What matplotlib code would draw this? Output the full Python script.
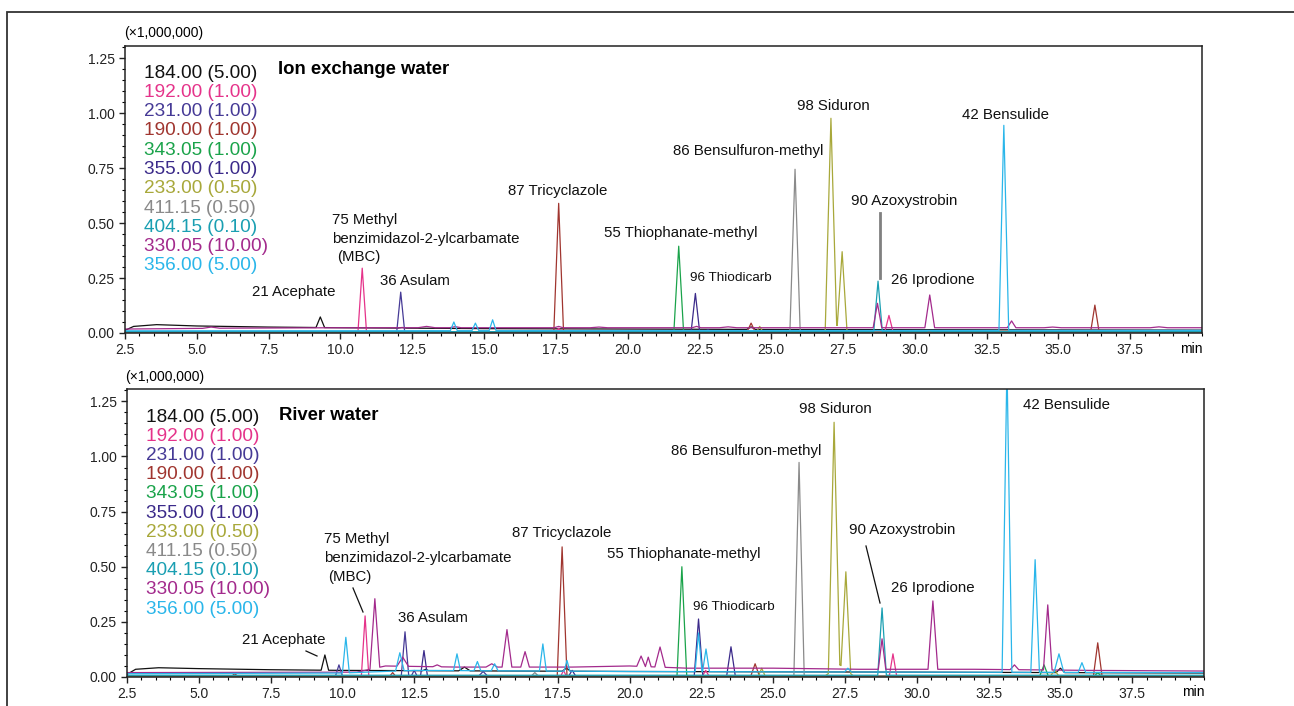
import matplotlib
matplotlib.use("Agg")
import matplotlib.pyplot as plt
import numpy as np
from matplotlib.patches import Rectangle
from matplotlib.lines import Line2D
from matplotlib.ticker import MultipleLocator

plt.rcParams['font.family'] = ['Liberation Sans', 'DejaVu Sans']

# m/z channels (legend order) and their colours
channels = ["184.00", "192.00", "231.00", "190.00", "343.05", "355.00",
            "233.00", "411.15", "404.15", "330.05", "356.00"]
factors = ["5.00", "1.00", "1.00", "1.00", "1.00", "1.00",
           "0.50", "0.50", "0.10", "10.00", "5.00"]
colors = ["#111111", "#e5338a", "#463a96", "#a0352f", "#1aa34a", "#3b2a8a",
          "#a8a83a", "#8a8a8a", "#1a9fb2", "#a32a8c", "#2ab6ea"]

# Ion exchange water: baseline points (min, x1e6) and peaks (rt, height, half width)
ion_base = {
    "184.00": [(2.5, 0.012), (2.8, 0.03), (3.6, 0.038), (5.0, 0.032), (7.5, 0.027),
               (10, 0.024), (15, 0.02), (25, 0.016), (40, 0.013)],
    "192.00": [(2.5, 0.002), (40, 0.002)],
    "231.00": [(2.5, 0.004), (40, 0.004)],
    "190.00": [(2.5, 0.003), (40, 0.003)],
    "343.05": [(2.5, 0.003), (40, 0.003)],
    "355.00": [(2.5, 0.004), (40, 0.004)],
    "233.00": [(2.5, 0.003), (26.8, 0.003), (27.29, 0.035), (27.7, 0.003), (40, 0.003)],
    "411.15": [(2.5, 0.004), (40, 0.004)],
    "404.15": [(2.5, 0.006), (40, 0.006)],
    "330.05": [(2.5, 0.018), (6, 0.022), (10, 0.024), (20, 0.024), (30, 0.024), (40, 0.024)],
    "356.00": [(2.5, 0.010), (40, 0.012)],
}
ion_peaks = {
    "184.00": [(9.3, 0.073, 0.15), (12.15, 0.025, 0.15), (24.3, 0.028, 0.15)],
    "192.00": [(10.76, 0.295, 0.15), (17.6, 0.022, 0.12), (29.1, 0.08, 0.15)],
    "231.00": [(12.1, 0.186, 0.14)],
    "190.00": [(17.6, 0.59, 0.17), (24.3, 0.045, 0.15), (36.27, 0.127, 0.15)],
    "343.05": [(21.78, 0.395, 0.17), (36.3, 0.012, 0.15)],
    "355.00": [(22.36, 0.18, 0.15), (22.8, 0.015, 0.15)],
    "233.00": [(24.6, 0.03, 0.12), (27.08, 0.977, 0.2), (27.47, 0.37, 0.17)],
    "411.15": [(25.83, 0.745, 0.18)],
    "404.15": [(28.72, 0.236, 0.15), (30.5, 0.01, 0.15), (35.0, 0.008, 0.15)],
    "330.05": [(5.5, 0.027, 0.3), (13.0, 0.03, 0.3), (14.0, 0.029, 0.2), (17.6, 0.03, 0.15),
               (19.0, 0.027, 0.3), (22.4, 0.03, 0.15), (23.5, 0.028, 0.3), (28.7, 0.135, 0.15),
               (30.52, 0.173, 0.17), (33.37, 0.055, 0.15), (34.8, 0.027, 0.3), (38.5, 0.028, 0.3)],
    "356.00": [(13.95, 0.05, 0.12), (14.7, 0.045, 0.12), (15.3, 0.06, 0.12), (33.1, 0.945, 0.17)],
}

# River water
river_base = {
    "184.00": [(2.5, 0.012), (2.8, 0.035), (3.6, 0.042), (5.0, 0.038), (7.5, 0.033),
               (10, 0.03), (14, 0.028), (20, 0.025), (30, 0.022), (40, 0.018)],
    "192.00": [(2.5, 0.003), (40, 0.003)],
    "231.00": [(2.5, 0.005), (40, 0.005)],
    "190.00": [(2.5, 0.004), (40, 0.004)],
    "343.05": [(2.5, 0.004), (40, 0.004)],
    "355.00": [(2.5, 0.005), (40, 0.005)],
    "233.00": [(2.5, 0.004), (26.8, 0.004), (27.33, 0.055), (27.8, 0.004), (40, 0.004)],
    "411.15": [(2.5, 0.005), (40, 0.005)],
    "404.15": [(2.5, 0.008), (40, 0.008)],
    "330.05": [(2.5, 0.02), (10.5, 0.022), (11.5, 0.05), (14, 0.045), (18, 0.045), (20, 0.05),
               (22, 0.04), (25, 0.04), (28, 0.035), (32, 0.035), (36, 0.03), (40, 0.027)],
    "356.00": [(2.5, 0.015), (10, 0.018), (12.5, 0.03), (20, 0.025), (30, 0.022), (40, 0.02)],
}
river_peaks = {
    "184.00": [(9.39, 0.1, 0.13), (12.9, 0.035, 0.1), (14.25, 0.045, 0.2), (17.8, 0.04, 0.15),
               (35.0, 0.04, 0.15)],
    "192.00": [(10.79, 0.277, 0.13), (17.7, 0.03, 0.1), (22.65, 0.03, 0.12), (29.17, 0.105, 0.13)],
    "231.00": [(9.88, 0.055, 0.12), (12.18, 0.205, 0.13), (12.5, 0.03, 0.1), (14.9, 0.025, 0.15)],
    "190.00": [(6.25, 0.015, 0.1), (11.75, 0.02, 0.1), (17.65, 0.59, 0.17), (24.37, 0.06, 0.15),
               (36.3, 0.155, 0.15)],
    "343.05": [(21.82, 0.5, 0.17), (34.43, 0.055, 0.15), (36.3, 0.02, 0.12)],
    "355.00": [(12.84, 0.12, 0.12), (18.0, 0.03, 0.12), (22.4, 0.263, 0.15), (23.53, 0.137, 0.15)],
    "233.00": [(24.6, 0.04, 0.12), (27.12, 1.155, 0.2), (27.53, 0.477, 0.17), (34.8, 0.03, 0.15)],
    "411.15": [(16.7, 0.02, 0.12), (25.9, 0.973, 0.18)],
    "404.15": [(28.79, 0.313, 0.15)],
    "330.05": [(11.13, 0.355, 0.17), (12.1, 0.09, 0.2), (13.3, 0.055, 0.15), (15.2, 0.06, 0.2),
               (15.73, 0.215, 0.17), (16.36, 0.115, 0.15), (20.4, 0.095, 0.15), (20.65, 0.09, 0.1),
               (21.06, 0.136, 0.18), (28.79, 0.173, 0.13), (30.56, 0.345, 0.17), (33.4, 0.055, 0.15),
               (34.56, 0.327, 0.15)],
    "356.00": [(10.12, 0.18, 0.12), (12.0, 0.11, 0.15), (13.99, 0.105, 0.12), (14.7, 0.07, 0.12),
               (15.3, 0.06, 0.12), (16.98, 0.15, 0.12), (17.82, 0.075, 0.1), (22.4, 0.2, 0.12),
               (22.66, 0.127, 0.12), (27.6, 0.04, 0.12), (33.14, 1.42, 0.17), (34.12, 0.532, 0.15),
               (34.95, 0.105, 0.17), (35.75, 0.065, 0.13)],
}

W, H = 1294, 706


def trace(base, peaks):
    bt = np.array([p[0] for p in base])
    bv = np.array([p[1] for p in base])
    pts = []
    for t, v in base:
        if not any(abs(t - rt) < w for rt, h, w in peaks):
            pts.append((t, v))
    for rt, h, w in peaks:
        pts.append((rt - w, np.interp(rt - w, bt, bv)))
        pts.append((rt, h))
        pts.append((rt + w, np.interp(rt + w, bt, bv)))
    pts.sort()
    return [p[0] for p in pts], [p[1] for p in pts]


def ftext(x, y, s, **kw):
    fig.text(x / W, 1 - y / H, s, va="center", ha=kw.pop("ha", "left"), **kw)


def fline(x0, y0, x1, y1, **kw):
    fig.add_artist(Line2D([x0 / W, x1 / W], [1 - y0 / H, 1 - y1 / H],
                          transform=fig.transFigure, **kw))


fig = plt.figure(figsize=(W / 100, H / 100), dpi=100)
fig.add_artist(Rectangle((7 / W, -0.05), 1.0, 1 - 12 / H + 0.05, transform=fig.transFigure,
                         fill=False, ec="#333333", lw=1.3))

ax1 = fig.add_axes([125 / W, 1 - 333 / H, (1202 - 125) / W, (333 - 46) / H])
ax2 = fig.add_axes([127 / W, 1 - 677 / H, (1204 - 127) / W, (677 - 389) / H])

for ax, base, peaks in [(ax1, ion_base, ion_peaks), (ax2, river_base, river_peaks)]:
    for ch, c in zip(channels, colors):
        t, v = trace(base[ch], peaks[ch])
        ax.plot(t, v, color=c, lw=0.9)
    ax.set_xlim(2.5, 40)
    ax.set_ylim(0, 1.306)
    ax.set_xticks(np.arange(2.5, 37.6, 2.5))
    ax.set_xticklabels(["%.1f" % x for x in np.arange(2.5, 37.6, 2.5)])
    ax.set_yticks([0, 0.25, 0.5, 0.75, 1.0, 1.25])
    ax.set_yticklabels(["0.00", "0.25", "0.50", "0.75", "1.00", "1.25"])
    ax.xaxis.set_minor_locator(MultipleLocator(0.5))
    ax.yaxis.set_minor_locator(MultipleLocator(0.05))
    ax.tick_params(which="major", direction="out", length=4, width=1, labelsize=10,
                   colors="#222222")
    ax.tick_params(which="minor", direction="out", length=2, width=0.8)
    for sp in ax.spines.values():
        sp.set_linewidth(1.1)
        sp.set_color("#222222")

# axis decorations
ftext(124, 33, "(\u00d71,000,000)", fontsize=10)
ftext(125, 377, "(\u00d71,000,000)", fontsize=10)
ftext(1203, 349, "min", fontsize=10, ha="right")
ftext(1205, 692, "min", fontsize=10, ha="right")

# legends and titles
for i, (ch, f, c) in enumerate(zip(channels, factors, colors)):
    ftext(144, 73 + 19.3 * i, "%s (%s)" % (ch, f), color=c, fontsize=13.7)
    ftext(146, 417 + 19.2 * i, "%s (%s)" % (ch, f), color=c, fontsize=13.7)
ftext(278, 70, "Ion exchange water", fontsize=13.3, fontweight="bold")
ftext(279, 416, "River water", fontsize=13.3, fontweight="bold")

# peak labels, ion exchange water
top_labels = [("21 Acephate", 252, 292), ("75 Methyl", 332, 220),
              ("benzimidazol-2-ylcarbamate", 332, 239), ("(MBC)", 337, 257),
              ("36 Asulam", 380, 281), ("87 Tricyclazole", 508, 191),
              ("55 Thiophanate-methyl", 604, 233), ("86 Bensulfuron-methyl", 673, 151),
              ("98 Siduron", 797, 106), ("90 Azoxystrobin", 851, 201),
              ("26 Iprodione", 891, 280), ("42 Bensulide", 962, 115)]
for s, x, y in top_labels:
    ftext(x, y, s, fontsize=10.8, color="#111111")
ftext(690, 278, "96 Thiodicarb", fontsize=9.7, color="#111111")
fline(880, 213, 880, 278, color="#808080", lw=2)

# peak labels, river water
bot_labels = [("21 Acephate", 242, 640), ("75 Methyl", 324, 539),
              ("benzimidazol-2-ylcarbamate", 324, 558), ("(MBC)", 328, 577),
              ("36 Asulam", 398, 618), ("87 Tricyclazole", 512, 533),
              ("55 Thiophanate-methyl", 607, 554), ("86 Bensulfuron-methyl", 671, 451),
              ("98 Siduron", 799, 409), ("90 Azoxystrobin", 849, 530),
              ("26 Iprodione", 891, 588), ("42 Bensulide", 1023, 405)]
for s, x, y in bot_labels:
    ftext(x, y, s, fontsize=10.8, color="#111111")
ftext(693, 607, "96 Thiodicarb", fontsize=9.7, color="#111111")
fline(306, 651, 317, 656, color="#111111", lw=0.9)
fline(353, 588, 363, 612, color="#111111", lw=0.9)
fline(866, 546, 880, 603, color="#111111", lw=0.9)

fig.savefig("out.png", dpi=100)
